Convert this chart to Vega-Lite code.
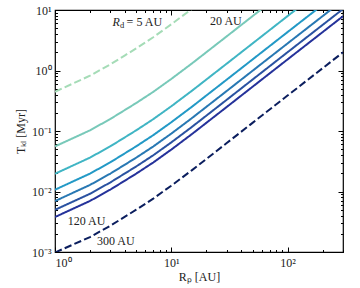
{
  "$schema": "https://vega.github.io/schema/vega-lite/v6.json",
  "width": 288,
  "height": 242,
  "autosize": {"type": "none"},
  "padding": {"left": 55, "top": 10, "right": 17, "bottom": 36},
  "background": "white",
  "config": {
    "font": "Liberation Serif",
    "view": {"stroke": "#000", "strokeWidth": 1.2},
    "axis": {"domain": false, "grid": false, "tickColor": "#000", "labelColor": "#222", "titleColor": "#222", "labelFont": "Liberation Serif", "titleFont": "Liberation Serif", "labelFontSize": 12, "titleFontSize": 12, "titleFontWeight": "normal"}
  },
  "datasets": {
    "lines": [
      {"Rp": 1, "T": 0.445, "Rd": 5}, {"Rp": 2, "T": 0.821, "Rd": 5}, {"Rp": 3, "T": 1.268, "Rd": 5}, {"Rp": 4, "T": 1.782, "Rd": 5}, {"Rp": 5, "T": 2.323, "Rd": 5}, {"Rp": 7, "T": 3.549, "Rd": 5}, {"Rp": 10, "T": 5.795, "Rd": 5}, {"Rp": 15, "T": 10.4, "Rd": 5}, {"Rp": 20, "T": 16.0, "Rd": 5},
      {"Rp": 1, "T": 0.0556, "Rd": 20}, {"Rp": 2, "T": 0.1026, "Rd": 20}, {"Rp": 3, "T": 0.1585, "Rd": 20}, {"Rp": 4, "T": 0.2228, "Rd": 20}, {"Rp": 5, "T": 0.2904, "Rd": 20}, {"Rp": 7, "T": 0.4436, "Rd": 20}, {"Rp": 10, "T": 0.7244, "Rd": 20}, {"Rp": 15, "T": 1.3, "Rd": 20}, {"Rp": 20, "T": 2.0, "Rd": 20}, {"Rp": 30, "T": 3.67, "Rd": 20}, {"Rp": 50, "T": 7.91, "Rd": 20}, {"Rp": 100, "T": 22.4, "Rd": 20},
      {"Rp": 1, "T": 0.01966, "Rd": 40}, {"Rp": 2, "T": 0.03628, "Rd": 40}, {"Rp": 3, "T": 0.05605, "Rd": 40}, {"Rp": 4, "T": 0.07878, "Rd": 40}, {"Rp": 5, "T": 0.1027, "Rd": 40}, {"Rp": 7, "T": 0.1569, "Rd": 40}, {"Rp": 10, "T": 0.2561, "Rd": 40}, {"Rp": 15, "T": 0.4597, "Rd": 40}, {"Rp": 20, "T": 0.7072, "Rd": 40}, {"Rp": 30, "T": 1.298, "Rd": 40}, {"Rp": 50, "T": 2.797, "Rd": 40}, {"Rp": 100, "T": 7.921, "Rd": 40}, {"Rp": 200, "T": 22.35, "Rd": 40},
      {"Rp": 1, "T": 0.0107, "Rd": 60}, {"Rp": 2, "T": 0.01975, "Rd": 60}, {"Rp": 3, "T": 0.0305, "Rd": 60}, {"Rp": 4, "T": 0.04288, "Rd": 60}, {"Rp": 5, "T": 0.05589, "Rd": 60}, {"Rp": 7, "T": 0.08537, "Rd": 60}, {"Rp": 10, "T": 0.1394, "Rd": 60}, {"Rp": 15, "T": 0.2502, "Rd": 60}, {"Rp": 20, "T": 0.3849, "Rd": 60}, {"Rp": 30, "T": 0.7063, "Rd": 60}, {"Rp": 50, "T": 1.522, "Rd": 60}, {"Rp": 100, "T": 4.311, "Rd": 60}, {"Rp": 200, "T": 12.16, "Rd": 60}, {"Rp": 300, "T": 22.3, "Rd": 60},
      {"Rp": 1, "T": 0.00695, "Rd": 80}, {"Rp": 2, "T": 0.01283, "Rd": 80}, {"Rp": 3, "T": 0.01981, "Rd": 80}, {"Rp": 4, "T": 0.02785, "Rd": 80}, {"Rp": 5, "T": 0.0363, "Rd": 80}, {"Rp": 7, "T": 0.05545, "Rd": 80}, {"Rp": 10, "T": 0.09055, "Rd": 80}, {"Rp": 15, "T": 0.1625, "Rd": 80}, {"Rp": 20, "T": 0.25, "Rd": 80}, {"Rp": 30, "T": 0.4588, "Rd": 80}, {"Rp": 50, "T": 0.9888, "Rd": 80}, {"Rp": 100, "T": 2.8, "Rd": 80}, {"Rp": 200, "T": 7.9, "Rd": 80}, {"Rp": 300, "T": 14.5, "Rd": 80},
      {"Rp": 1, "T": 0.004973, "Rd": 100}, {"Rp": 2, "T": 0.009177, "Rd": 100}, {"Rp": 3, "T": 0.01418, "Rd": 100}, {"Rp": 4, "T": 0.01993, "Rd": 100}, {"Rp": 5, "T": 0.02597, "Rd": 100}, {"Rp": 7, "T": 0.03968, "Rd": 100}, {"Rp": 10, "T": 0.06479, "Rd": 100}, {"Rp": 15, "T": 0.1163, "Rd": 100}, {"Rp": 20, "T": 0.1789, "Rd": 100}, {"Rp": 30, "T": 0.3282, "Rd": 100}, {"Rp": 50, "T": 0.7075, "Rd": 100}, {"Rp": 100, "T": 2.003, "Rd": 100}, {"Rp": 200, "T": 5.653, "Rd": 100}, {"Rp": 300, "T": 10.37, "Rd": 100},
      {"Rp": 1, "T": 0.003783, "Rd": 120}, {"Rp": 2, "T": 0.006981, "Rd": 120}, {"Rp": 3, "T": 0.01078, "Rd": 120}, {"Rp": 4, "T": 0.01516, "Rd": 120}, {"Rp": 5, "T": 0.01976, "Rd": 120}, {"Rp": 7, "T": 0.03018, "Rd": 120}, {"Rp": 10, "T": 0.04929, "Rd": 120}, {"Rp": 15, "T": 0.08845, "Rd": 120}, {"Rp": 20, "T": 0.1361, "Rd": 120}, {"Rp": 30, "T": 0.2497, "Rd": 120}, {"Rp": 50, "T": 0.5382, "Rd": 120}, {"Rp": 100, "T": 1.524, "Rd": 120}, {"Rp": 200, "T": 4.3, "Rd": 120}, {"Rp": 300, "T": 7.893, "Rd": 120},
      {"Rp": 1, "T": 0.00098, "Rd": 300}, {"Rp": 2, "T": 0.001766, "Rd": 300}, {"Rp": 3, "T": 0.002728, "Rd": 300}, {"Rp": 4, "T": 0.003835, "Rd": 300}, {"Rp": 5, "T": 0.004999, "Rd": 300}, {"Rp": 7, "T": 0.007636, "Rd": 300}, {"Rp": 10, "T": 0.01247, "Rd": 300}, {"Rp": 15, "T": 0.02238, "Rd": 300}, {"Rp": 20, "T": 0.03443, "Rd": 300}, {"Rp": 30, "T": 0.06317, "Rd": 300}, {"Rp": 50, "T": 0.1362, "Rd": 300}, {"Rp": 100, "T": 0.3856, "Rd": 300}, {"Rp": 200, "T": 1.088, "Rd": 300}, {"Rp": 300, "T": 1.997, "Rd": 300}
    ],
    "labels": [
      {"Rp": 29.5, "T": 6.6, "label": "20 AU"},
      {"Rp": 1.87, "T": 0.00325, "label": "120 AU"},
      {"Rp": 3.33, "T": 0.00152, "label": "300 AU"}
    ],
    "rd": [{"Rp": 3.13, "T": 6.3}]
  },
  "layer": [
    {
      "data": {"name": "lines"},
      "mark": {"type": "line", "clip": true, "strokeWidth": 2},
      "encoding": {
        "x": {"field": "Rp", "type": "quantitative", "scale": {"type": "log", "domain": [1, 300], "nice": false},
              "axis": {"orient": "bottom", "values": [1, 10, 100], "ticks": false, "labelPadding": 5, "title": "Rₚ [AU]", "titlePadding": 3,
                       "labelExpr": "['10⁰','10¹','10²'][round(log(datum.value)/LN10)]"}},
        "y": {"field": "T", "type": "quantitative", "scale": {"type": "log", "domain": [0.001, 10], "nice": false},
              "axis": {"orient": "left", "values": [0.001, 0.01, 0.1, 1, 10], "ticks": false, "labelPadding": 4, "title": "Tₖₗ [Myr]", "titlePadding": 4,
                       "labelExpr": "['10⁻³','10⁻²','10⁻¹','10⁰','10¹'][round(log(datum.value)/LN10)+3]"}},
        "color": {"field": "Rd", "type": "nominal", "legend": null,
                  "scale": {"domain": [5, 20, 40, 60, 80, 100, 120, 300], "range": ["#a5dcb7", "#78c9b9", "#40b5c4", "#2399c6", "#2878b3", "#2a52a1", "#25329a", "#0b1e5e"]}},
        "strokeDash": {"field": "Rd", "type": "nominal", "legend": null,
                  "scale": {"domain": [5, 20, 40, 60, 80, 100, 120, 300], "range": [[7.4, 3.2], [1, 0], [1, 0], [1, 0], [1, 0], [1, 0], [1, 0], [7.4, 3.2]]}}
      }
    },
    {
      "data": {"name": "lines"},
      "mark": {"type": "point", "opacity": 0},
      "encoding": {
        "x": {"field": "Rp", "type": "quantitative", "scale": {"type": "log", "domain": [1, 300], "nice": false},
              "axis": {"orient": "bottom", "labels": false, "title": null, "values": [1,2,3,4,5,6,7,8,9,10,20,30,40,50,60,70,80,90,100,200,300],
                       "tickSize": {"condition": {"test": "abs(log(datum.value)/LN10 - round(log(datum.value)/LN10)) < 0.001", "value": -5}, "value": -2.5}}},
        "y": {"field": "T", "type": "quantitative", "scale": {"type": "log", "domain": [0.001, 10], "nice": false},
              "axis": {"orient": "left", "labels": false, "title": null, "values": [0.001,0.002,0.003,0.004,0.005,0.006,0.007,0.008,0.009,0.01,0.02,0.03,0.04,0.05,0.06,0.07,0.08,0.09,0.1,0.2,0.3,0.4,0.5,0.6,0.7,0.8,0.9,1,2,3,4,5,6,7,8,9,10],
                       "tickSize": {"condition": {"test": "abs(log(datum.value)/LN10 - round(log(datum.value)/LN10)) < 0.001", "value": -5}, "value": -2.5}}}
      }
    },
    {
      "data": {"name": "lines"},
      "mark": {"type": "point", "opacity": 0},
      "encoding": {
        "x": {"field": "Rp", "type": "quantitative", "scale": {"type": "log", "domain": [1, 300], "nice": false},
              "axis": {"orient": "top", "labels": false, "title": null, "values": [1,2,3,4,5,6,7,8,9,10,20,30,40,50,60,70,80,90,100,200,300],
                       "tickSize": {"condition": {"test": "abs(log(datum.value)/LN10 - round(log(datum.value)/LN10)) < 0.001", "value": -5}, "value": -2.5}}},
        "y": {"field": "T", "type": "quantitative", "scale": {"type": "log", "domain": [0.001, 10], "nice": false},
              "axis": {"orient": "right", "labels": false, "title": null, "values": [0.001,0.002,0.003,0.004,0.005,0.006,0.007,0.008,0.009,0.01,0.02,0.03,0.04,0.05,0.06,0.07,0.08,0.09,0.1,0.2,0.3,0.4,0.5,0.6,0.7,0.8,0.9,1,2,3,4,5,6,7,8,9,10],
                       "tickSize": {"condition": {"test": "abs(log(datum.value)/LN10 - round(log(datum.value)/LN10)) < 0.001", "value": -5}, "value": -2.5}}}
      }
    },
    {
      "data": {"name": "labels"},
      "mark": {"type": "text", "fontSize": 12, "color": "#222", "align": "center", "baseline": "middle"},
      "encoding": {
        "x": {"field": "Rp", "type": "quantitative", "scale": {"type": "log", "domain": [1, 300], "nice": false}, "axis": null},
        "y": {"field": "T", "type": "quantitative", "scale": {"type": "log", "domain": [0.001, 10], "nice": false}, "axis": null},
        "text": {"field": "label"}
      }
    },
    {
      "data": {"name": "rd"},
      "mark": {"type": "text", "fontSize": 12, "color": "#222", "align": "left", "baseline": "middle", "fontStyle": "italic", "text": "R"},
      "encoding": {
        "x": {"field": "Rp", "type": "quantitative", "scale": {"type": "log", "domain": [1, 300], "nice": false}, "axis": null},
        "y": {"field": "T", "type": "quantitative", "scale": {"type": "log", "domain": [0.001, 10], "nice": false}, "axis": null}
      }
    },
    {
      "data": {"name": "rd"},
      "mark": {"type": "text", "fontSize": 8.5, "color": "#222", "align": "left", "baseline": "middle", "text": "d", "dx": 7.5, "dy": 3},
      "encoding": {
        "x": {"field": "Rp", "type": "quantitative", "scale": {"type": "log", "domain": [1, 300], "nice": false}, "axis": null},
        "y": {"field": "T", "type": "quantitative", "scale": {"type": "log", "domain": [0.001, 10], "nice": false}, "axis": null}
      }
    },
    {
      "data": {"name": "rd"},
      "mark": {"type": "text", "fontSize": 12, "color": "#222", "align": "left", "baseline": "middle", "text": "= 5 AU", "dx": 14},
      "encoding": {
        "x": {"field": "Rp", "type": "quantitative", "scale": {"type": "log", "domain": [1, 300], "nice": false}, "axis": null},
        "y": {"field": "T", "type": "quantitative", "scale": {"type": "log", "domain": [0.001, 10], "nice": false}, "axis": null}
      }
    }
  ],
  "resolve": {"axis": {"x": "independent", "y": "independent"}}
}
